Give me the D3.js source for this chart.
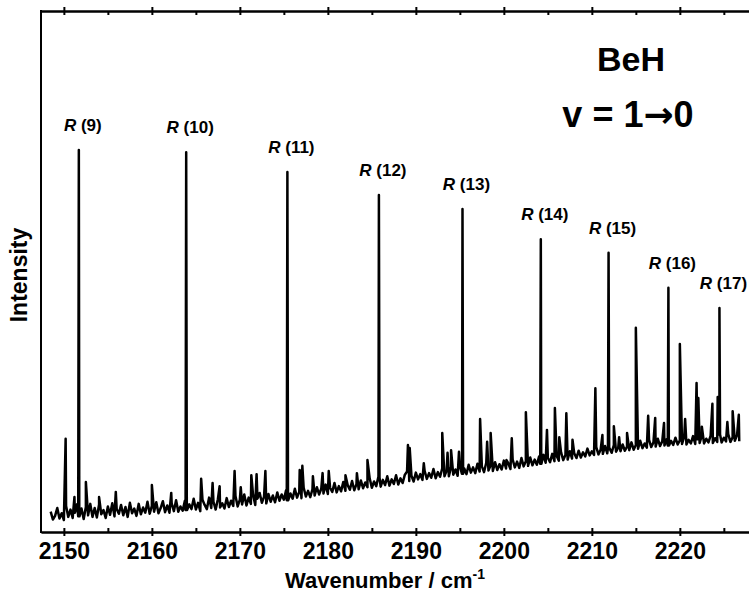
<!DOCTYPE html>
<html>
<head>
<meta charset="UTF-8">
<title>BeH v=1-0</title>
<script src="https://d3js.org/d3.v7.min.js"></script>
<style>
body { margin: 0; background: #fff; }
text { font-family: "Liberation Sans", Arial, sans-serif; font-weight: bold; fill: #000; }
.axis path, .axis line { stroke: #000; stroke-width: 2; }
</style>
</head>
<body>
<svg width="749" height="595"></svg>
<script>
// baseline trace, sampled every 0.25 cm-1 from 2148.5
var wnStart = 2148.5, wnStep = 0.25
var trace = [
  3.9, 2.4, 3.1, 4.6, 2.6, 3.6, 2.3, 5.0, 2.9, 4.3, 2.7, 3.7, 5.3, 3.0, 4.5, 2.5, 4.8, 3.2, 5.4, 2.9,
  4.6, 2.8, 5.3, 3.4, 4.2, 2.7, 4.9, 3.3, 5.5, 3.0, 4.4, 3.5, 5.2, 3.2, 4.8, 2.9, 5.6, 3.6, 4.5, 3.1,
  5.4, 3.4, 4.7, 3.7, 5.8, 3.5, 5.0, 3.9, 5.7, 3.6, 4.6, 5.9, 3.8, 5.1, 3.7, 5.5, 4.0, 6.1, 3.9, 4.9,
  4.1, 6.0, 4.2, 5.3, 4.4, 6.4, 4.3, 5.6, 4.0, 6.2, 5.2, 4.4, 6.6, 4.6, 5.8, 4.3, 6.3, 4.7, 5.5, 4.5,
  6.5, 4.8, 6.0, 5.0, 6.9, 4.9, 6.2, 5.3, 7.2, 5.1, 6.6, 5.4, 7.1, 5.2, 6.4, 7.5, 5.6, 6.8, 5.5, 7.3,
  5.8, 7.0, 5.7, 7.6, 6.0, 7.2, 6.2, 8.0, 6.1, 7.4, 6.4, 8.3, 6.6, 7.7, 6.5, 8.5, 6.8, 7.9, 6.7, 8.2,
  7.0, 8.6, 7.2, 8.3, 7.4, 9.1, 7.3, 8.5, 7.7, 9.4, 7.6, 8.8, 7.8, 9.6, 7.9, 9.0, 8.1, 9.8, 8.0, 9.2,
  8.2, 9.9, 8.4, 9.5, 8.6, 10.3, 8.5, 9.7, 8.8, 10.5, 8.7, 10.0, 9.0, 10.7, 8.9, 10.1, 9.2, 10.9, 9.1, 10.3,
  9.4, 11.0, 11.6, 9.8, 10.8, 9.7, 11.4, 10.1, 11.1, 10.0, 11.7, 10.2, 11.3, 10.4, 12.1, 10.3, 11.5, 10.6, 12.2, 10.7,
  11.8, 10.7, 12.5, 11.0, 12.0, 10.8, 12.7, 11.2, 12.2, 11.1, 12.9, 11.4, 12.4, 11.3, 13.1, 11.6, 12.6, 11.5, 13.3, 11.8,
  12.8, 11.7, 13.4, 11.9, 13.0, 12.0, 13.7, 12.2, 13.2, 12.1, 13.9, 12.4, 13.5, 12.3, 14.2, 12.6, 13.6, 12.7, 14.3, 12.8,
  13.9, 12.9, 14.5, 13.1, 14.8, 13.3, 14.2, 13.4, 15.0, 13.6, 14.6, 13.7, 15.3, 13.8, 14.8, 13.9, 15.5, 14.1, 15.1, 14.2,
  15.6, 14.3, 15.3, 14.5, 16.0, 14.7, 15.5, 14.8, 16.3, 14.9, 15.8, 15.0, 16.5, 15.1, 16.1, 15.2, 16.7, 15.4, 16.2, 15.5,
  16.8, 15.6, 16.4, 15.7, 17.2, 15.8, 16.7, 16.0, 17.5, 16.1, 17.0, 16.2, 17.7, 16.3, 17.2, 16.4, 17.9, 16.5, 17.4, 16.6,
  17.8, 16.6, 17.5, 16.7, 18.1, 16.8, 17.6, 16.9, 18.3, 16.8, 17.7, 17.0, 18.4, 16.9, 17.8, 17.1, 18.5, 17.0, 17.9, 17.2,
  18.5, 17.1, 18.0, 17.3, 18.7, 17.2, 18.1, 17.4, 18.8, 17.3, 18.2, 17.5, 18.6, 17.4
]

// R-branch lines
var rJ = [9, 10, 11, 12, 13, 14, 15, 16, 17]
var rWn = [2151.7, 2163.9, 2175.4, 2185.8, 2195.3, 2204.2, 2211.9, 2218.7, 2224.5]
var rTop = [73.3, 72.9, 69.1, 64.7, 62.0, 56.2, 53.6, 46.9, 43.0]

// weaker lines
var minorWn = [2150.2, 2151.2, 2152.5, 2154.0, 2155.9, 2160.0, 2162.2, 2165.6, 2166.9, 2167.7,
  2169.4, 2170.1, 2171.3, 2171.9, 2172.9, 2176.8, 2177.1, 2178.3, 2179.4, 2180.1,
  2182.0, 2183.3, 2184.5, 2189.1, 2189.3, 2190.9, 2193.0, 2193.6, 2194.0, 2194.9,
  2197.3, 2198.1, 2198.5, 2200.3, 2200.9, 2202.5, 2204.9, 2205.8, 2206.3, 2207.1,
  2207.8, 2210.4, 2211.2, 2212.5, 2213.1, 2214.0, 2215.0, 2216.4, 2217.2, 2218.2,
  2220.0, 2220.6, 2221.9, 2222.1, 2222.5, 2223.7, 2224.3, 2225.4, 2226.0, 2226.7]
var minorTop = [17.9, 6.7, 9.6, 6.7, 7.7, 9.0, 7.5, 10.2, 9.4, 8.8,
  11.7, 8.6, 10.9, 11.1, 11.7, 11.9, 12.7, 10.7, 11.3, 11.7,
  10.9, 11.3, 13.8, 16.7, 16.1, 13.2, 19.0, 15.2, 15.7, 15.4,
  21.7, 17.3, 19.0, 13.8, 18.0, 23.0, 19.6, 23.8, 18.2, 22.8,
  17.7, 27.6, 18.6, 20.3, 18.2, 19.0, 39.2, 22.3, 21.9, 20.9,
  36.1, 21.7, 28.6, 25.7, 20.2, 24.6, 25.9, 21.1, 23.2, 22.5]

var majorTicks = [2150, 2160, 2170, 2180, 2190, 2200, 2210, 2220]
var allTicks = [2150, 2155, 2160, 2165, 2170, 2175, 2180, 2185, 2190, 2195, 2200, 2205, 2210, 2215, 2220, 2225]

var svg = d3.select("svg")
var pLeft = 41, pRight = 752, pTop = 11, pBottom = 532

var x = d3.scaleLinear().domain([2147.4, 2228.2]).range([pLeft, pRight])
var y = d3.scaleLinear().domain([0, 100]).range([pBottom, pTop])

// trace points, with the R lines drawn as narrow spikes off the nearest trace sample
var pts = trace.map(function(v, i) { return [wnStart + i * wnStep, v] })
rWn.forEach(function(w, i) {
  var b = trace[Math.round((w - wnStart) / wnStep)]
  pts.push([w - 0.07, b], [w, rTop[i]], [w + 0.07, b])
})
minorWn.forEach(function(w, i) { pts.push([w, minorTop[i]]) })
pts.sort(function(a, b) { return a[0] - b[0] })

svg.append("clipPath").attr("id", "clip")
  .append("rect").attr("x", pLeft).attr("y", pTop).attr("width", pRight - pLeft).attr("height", pBottom - pTop)

svg.append("path")
  .datum(pts)
  .attr("clip-path", "url(#clip)")
  .attr("fill", "none")
  .attr("stroke", "#000")
  .attr("stroke-width", 2.5)
  .attr("stroke-linejoin", "round")
  .attr("d", d3.line().x(function(d) { return x(d[0]) }).y(function(d) { return y(d[1]) }))

// bottom axis: labelled outward major ticks + inward ticks every 5
svg.append("g").attr("class", "axis")
  .attr("transform", "translate(0," + pBottom + ")")
  .call(d3.axisBottom(x).tickValues(majorTicks).tickSize(4).tickPadding(7).tickSizeOuter(0).tickFormat(d3.format("d")))
  .call(function(g) { g.selectAll("text").style("font-size", "23px") })
svg.append("g").attr("class", "axis")
  .attr("transform", "translate(0," + pBottom + ")")
  .call(d3.axisBottom(x).tickValues(allTicks).tickSize(-4).tickSizeOuter(0).tickFormat(""))

// top axis
svg.append("g").attr("class", "axis")
  .attr("transform", "translate(0," + pTop + ")")
  .call(d3.axisTop(x).tickValues(majorTicks).tickSize(4).tickSizeOuter(0).tickFormat(""))
svg.append("g").attr("class", "axis")
  .attr("transform", "translate(0," + pTop + ")")
  .call(d3.axisTop(x).tickValues(allTicks).tickSize(-4).tickSizeOuter(0).tickFormat(""))

// left frame
svg.append("line")
  .attr("x1", pLeft).attr("x2", pLeft).attr("y1", pTop - 1).attr("y2", pBottom + 1)
  .attr("stroke", "#000").attr("stroke-width", 2)

// line labels
var lab = svg.append("g").selectAll("text")
  .data(rJ)
  .enter().append("text")
  .attr("x", function(d, i) { return x(rWn[i]) + 4 })
  .attr("y", function(d, i) { return y(rTop[i]) - 19 })
  .attr("text-anchor", "middle")
  .style("font-size", "17px")
lab.append("tspan").style("font-style", "italic").text("R")
lab.append("tspan").text(function(d) { return " (" + d + ")" })

// axis titles
var xt = svg.append("text")
  .attr("x", 385).attr("y", 588)
  .attr("text-anchor", "middle")
  .style("font-size", "22px")
xt.append("tspan").text("Wavenumber / cm")
xt.append("tspan").attr("dy", -9).style("font-size", "14px").text("-1")

svg.append("text")
  .attr("transform", "translate(27,275) rotate(-90)")
  .attr("text-anchor", "middle")
  .style("font-size", "23px")
  .text("Intensity")

svg.append("text")
  .attr("x", 631).attr("y", 71)
  .attr("text-anchor", "middle")
  .style("font-size", "34px")
  .text("BeH")

var vt = svg.append("text")
  .attr("x", 628).attr("y", 127)
  .attr("text-anchor", "middle")
  .style("font-size", "36px")
vt.append("tspan").text("v = 1")
vt.append("tspan").style("font-family", "DejaVu Sans").text("\u2192")
vt.append("tspan").text("0")
</script>
</body>
</html>
